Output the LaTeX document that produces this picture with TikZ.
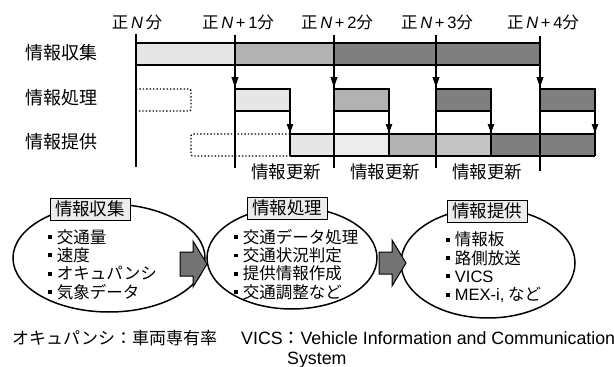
\documentclass[tikz,border=0pt]{standalone}
\usepackage{fontspec}
\setmainfont{Liberation Sans}
\newfontfamily\cjk{Noto Sans CJK JP}
\usetikzlibrary{arrows.meta,shapes.geometric}
\definecolor{lt}{HTML}{E6E6E6}
\definecolor{ltb}{HTML}{ECECEC}
\definecolor{md}{HTML}{B2B2B2}
\definecolor{mdl}{HTML}{C4C4C4}
\definecolor{dk}{HTML}{7F7F7F}
\definecolor{tb}{HTML}{ECECEC}
\newcommand\bul{\rule[0.26em]{0.23em}{0.23em}\hspace{0.3em}}
\newcommand\hdN[1]{{\cjk 正}\,\textit{N}\,+\,#1{\cjk 分}}
\begin{document}
\begin{tikzpicture}[x=1pt,y=-1pt,
  tl/.style={line width=2.6pt},
  tlarr/.style={line width=0.8pt,-{Triangle[length=10pt,width=7pt]}},
  bx/.style={line width=1.3pt},
  bxarr/.style={line width=0.8pt,-{Triangle[length=9pt,width=6.5pt]}},
  dotbox/.style={line width=1.4pt,dotted,rounded corners=2pt},
  rowlab/.style={font=\cjk\fontsize{18}{18}\selectfont},
  hdr/.style={font=\fontsize{16.5}{16.5}\selectfont},
  upd/.style={font=\cjk\fontsize{17.5}{17.5}\selectfont},
  ell/.style={ellipse,draw,line width=1.5pt,inner sep=0pt},
  tbox/.style={draw,fill=tb,line width=1pt,font=\cjk\fontsize{17.5}{17.5}\selectfont,inner xsep=5pt,inner ysep=2pt,minimum height=22pt},
  lst/.style={align=left,font=\cjk\fontsize{16.5}{18.3}\selectfont,inner sep=0pt,anchor=west},
  barrow/.style={draw=black,line width=1pt,fill=black!55},
  note/.style={font=\fontsize{17.8}{17.8}\selectfont,anchor=west,inner sep=0pt}
]
\useasboundingbox (0,0) rectangle (614,367);

% ---------- headers ----------
\node[hdr] (h0) at (137,22) {{\cjk 正}\,\textit{N}\,{\cjk 分}};
\node[hdr] (h1) at (238,22) {\hdN{1}};
\node[hdr] (h2) at (337,22) {\hdN{2}};
\node[hdr] (h3) at (437,22) {\hdN{3}};
\node[hdr] (h4) at (543,22) {\hdN{4}};

% ---------- row labels ----------
\node[rowlab] (r1) at (62,53) {情報収集};
\node[rowlab] (r2) at (62,98) {情報処理};
\node[rowlab] (r3) at (62,142) {情報提供};

% ---------- fills ----------
\fill[lt] (136,43) rectangle (235,65);
\fill[md] (235,43) rectangle (334,65);
\fill[dk] (334,43) rectangle (540,65);

\fill[lt] (235,89) rectangle (290,111);
\fill[md] (334,89) rectangle (389,111);
\fill[dk] (436,89) rectangle (491,111);
\fill[dk] (540,89) rectangle (595,111);

\fill[lt] (290,134) rectangle (334,156);
\fill[ltb] (334,134) rectangle (389,156);
\fill[md] (389,134) rectangle (436,156);
\fill[mdl] (436,134) rectangle (491,156);
\fill[dk] (491,134) rectangle (595,156);

% ---------- row 1 ----------
\draw[bx] (136,43) -- (540,43);
\draw[bx] (136,65) -- (540,65);

% ---------- row 2 ----------
\draw[dotbox] (136,89) -- (191,89) -- (191,111) -- (136,111);
\foreach \t/\r in {235/290,334/389,436/491,540/595}{
  \draw[bx] (\t,89) -- (\r,89) -- (\r,156);
  \draw[bx] (\t,111) -- (\r,111);
  \draw[bxarr] (\r,111) -- (\r,133);
}

% ---------- row 3 ----------
\draw[dotbox] (290,134) -- (191,134) -- (191,156) -- (290,156);
\draw[bx] (290,134) -- (595,134);
\draw[bx] (290,156) -- (595,156);

% ---------- time lines ----------
\draw[tl] (136,34) -- (136,167);
\foreach \t in {235,334,436}{
  \draw[tl] (\t,35) -- (\t,168);
  \draw[tlarr] (\t,65) -- (\t,87);
}
\draw[tl] (540,36) -- (540,171);
\draw[tlarr] (540,65) -- (540,87);

% ---------- update labels ----------
\node[upd] (u1) at (286,172) {情報更新};
\node[upd] (u2) at (385,172) {情報更新};
\node[upd] (u3) at (487,172) {情報更新};

% ---------- lower part ----------
\node[ell,minimum width=192pt,minimum height=108pt] (e1) at (109,258) {};
\node[ell,minimum width=170pt,minimum height=102pt] (e2) at (292,258) {};
\node[ell,minimum width=174pt,minimum height=110pt] (e3) at (488,263) {};

\node[tbox] (t1) at (90,209) {情報収集};
\node[tbox] (t2) at (287,208) {情報処理};
\node[tbox] (t3) at (487,211) {情報提供};

\node[lst] (l1) at (48,264.5) {\bul 交通量\\ \bul 速度\\ \bul オキュパンシ\\ \bul 気象データ};
\node[lst] (l2) at (234,264.5) {\bul 交通データ処理\\ \bul 交通状況判定\\ \bul 提供情報作成\\ \bul 交通調整など};
\node[lst] (l3) at (446,267.5) {\bul 情報板\\ \bul 路側放送\\ \bul {\fontspec{Liberation Sans}VICS}\\ \bul {\fontspec{Liberation Sans}MEX-i,} など};

\draw[barrow] (180,252) -- (193,252) -- (193,241) -- (207,264) -- (193,287) -- (193,276) -- (180,276) -- cycle;
\draw[barrow] (379,252) -- (392,252) -- (392,240) -- (406,263) -- (392,286) -- (392,274) -- (379,274) -- cycle;

% ---------- notes ----------
\node[note,font=\cjk\fontsize{17}{17}\selectfont] (n1) at (12,338) {オキュパンシ：車両専有率};
\node[note] (n2) at (241,338) {VICS{\cjk ：}Vehicle Information and Communication};
\node[note] (n3) at (287,360) {System};
\end{tikzpicture}
\end{document}
